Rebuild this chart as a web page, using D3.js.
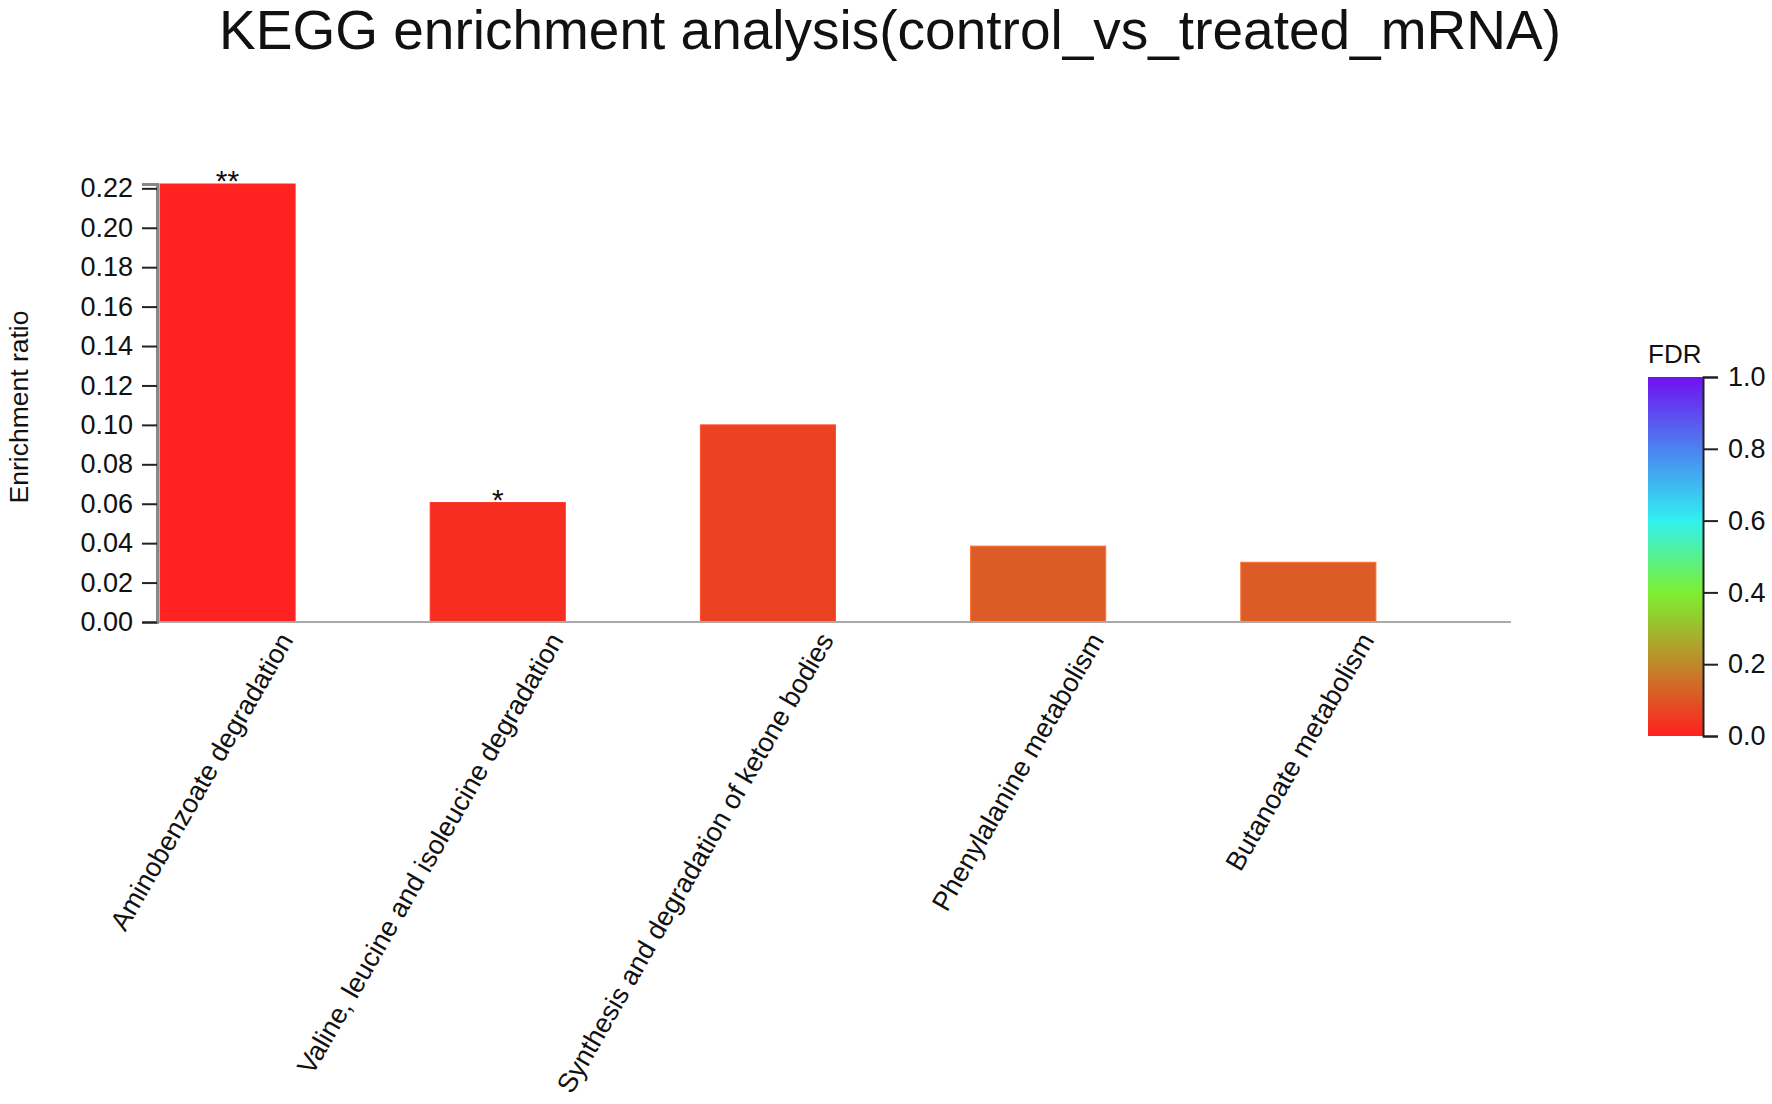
<!DOCTYPE html>
<html>
<head>
<meta charset="utf-8">
<script src="https://cdn.jsdelivr.net/npm/d3@7"></script>
<style>
	body { margin: 0; background: #ffffff; }
	svg text { font-family: "Liberation Sans", Arial, sans-serif; fill: #111111; }
</style>
</head>
<body>
<svg id="chart" width="1772" height="1104"></svg>
<script>
// KEGG pathways and their values
var pathways = [
	"Aminobenzoate degradation",
	"Valine, leucine and isoleucine degradation",
	"Synthesis and degradation of ketone bodies",
	"Phenylalanine metabolism",
	"Butanoate metabolism"
];
var enrichmentRatio = [0.2222, 0.0606, 0.1, 0.0385, 0.0303];
var fdr = [0.003, 0.025, 0.065, 0.115, 0.115];
var significance = ["**", "*", "", "", ""];

var yTicks = [0, 0.02, 0.04, 0.06, 0.08, 0.10, 0.12, 0.14, 0.16, 0.18, 0.20, 0.22];
var fdrTicks = [0, 0.2, 0.4, 0.6, 0.8, 1.0];
var fdrColors = ["#ff2020", "#c0882a", "#7cf032", "#30f0f0", "#4c82f0", "#7010f0"];

var svg = d3.select("#chart");

var axisX = 157, axisBottom = 622;

var x = d3.scaleBand()
	.domain(pathways)
	.range([160, 1511])
	.paddingInner(0.5)
	.paddingOuter(0.25)
	.align(0);

var y = d3.scaleLinear()
	.domain([0, d3.max(enrichmentRatio)])
	.range([axisBottom, 184]);

var color = d3.scaleLinear()
	.domain(fdrTicks)
	.range(fdrColors);

// Title
svg.append("text")
	.attr("x", 890)
	.attr("y", 49)
	.attr("text-anchor", "middle")
	.attr("font-size", "55px")
	.text("KEGG enrichment analysis(control_vs_treated_mRNA)");

// Bars
svg.selectAll("rect.bar")
	.data(pathways)
	.enter()
	.append("rect")
	.attr("class", "bar")
	.attr("x", function(d) { return x(d); })
	.attr("width", x.bandwidth())
	.attr("y", function(d, i) { return y(enrichmentRatio[i]); })
	.attr("height", function(d, i) { return axisBottom - y(enrichmentRatio[i]); })
	.attr("fill", function(d, i) { return color(fdr[i]); })
	.attr("stroke", function(d, i) { return d3.color(color(fdr[i])).brighter(0.5); })
	.attr("stroke-width", 1);

// Stars over significant bars
svg.selectAll("text.star")
	.data(pathways)
	.enter()
	.append("text")
	.attr("class", "star")
	.attr("x", function(d) { return x(d) + x.bandwidth() / 2; })
	.attr("y", function(d, i) { return y(enrichmentRatio[i]) + 7; })
	.attr("text-anchor", "middle")
	.attr("font-size", "30px")
	.text(function(d, i) { return significance[i]; });

// X axis line and rotated labels
svg.append("line")
	.attr("x1", axisX)
	.attr("x2", 1511)
	.attr("y1", axisBottom)
	.attr("y2", axisBottom)
	.attr("stroke", "#aaaaaa")
	.attr("stroke-width", 2);

svg.selectAll("text.xlabel")
	.data(pathways)
	.enter()
	.append("text")
	.attr("class", "xlabel")
	.attr("transform", function(d) {
		return "translate(" + (x(d) + x.bandwidth() - 1) + "," + (axisBottom + 18) + ") rotate(-60)";
	})
	.attr("text-anchor", "end")
	.attr("font-size", "27px")
	.text(function(d) { return d; });

// Y axis
var yAxis = svg.append("g")
	.attr("transform", "translate(" + axisX + ",0)")
	.call(d3.axisLeft(y)
		.tickValues(yTicks)
		.tickFormat(d3.format(".2f"))
		.tickSize(15)
		.tickPadding(9));

yAxis.select(".domain").attr("stroke", "#888888").attr("stroke-width", 3);
yAxis.selectAll(".tick line").attr("stroke", "#222222").attr("stroke-width", 2);
yAxis.selectAll(".tick text").attr("font-size", "27px").attr("font-family", "Liberation Sans, Arial, sans-serif").attr("fill", "#111111");

svg.append("text")
	.attr("transform", "translate(28,407) rotate(-90)")
	.attr("text-anchor", "middle")
	.attr("font-size", "26.5px")
	.text("Enrichment ratio");

// FDR colour legend
var legendX = 1648, legendW = 55, legendTop = 377, legendBottom = 736;

var gradient = svg.append("defs")
	.append("linearGradient")
	.attr("id", "fdrGradient")
	.attr("x1", "0%").attr("y1", "100%")
	.attr("x2", "0%").attr("y2", "0%");

gradient.selectAll("stop")
	.data(fdrTicks)
	.enter()
	.append("stop")
	.attr("offset", function(d) { return (d * 100) + "%"; })
	.attr("stop-color", function(d) { return color(d); });

svg.append("rect")
	.attr("x", legendX)
	.attr("y", legendTop)
	.attr("width", legendW)
	.attr("height", legendBottom - legendTop)
	.attr("fill", "url(#fdrGradient)");

var legendScale = d3.scaleLinear()
	.domain([0, 1])
	.range([legendBottom, legendTop]);

var legendAxis = svg.append("g")
	.attr("transform", "translate(" + (legendX + legendW) + ",0)")
	.call(d3.axisRight(legendScale)
		.tickValues(fdrTicks)
		.tickFormat(d3.format(".1f"))
		.tickSize(15)
		.tickPadding(10));

legendAxis.select(".domain").attr("stroke", "#222222").attr("stroke-width", 2);
legendAxis.selectAll(".tick line").attr("stroke", "#222222").attr("stroke-width", 2);
legendAxis.selectAll(".tick text").attr("font-size", "27px").attr("font-family", "Liberation Sans, Arial, sans-serif").attr("fill", "#111111");

svg.append("text")
	.attr("x", legendX)
	.attr("y", 363)
	.attr("font-size", "26px")
	.text("FDR");
</script>
</body>
</html>
